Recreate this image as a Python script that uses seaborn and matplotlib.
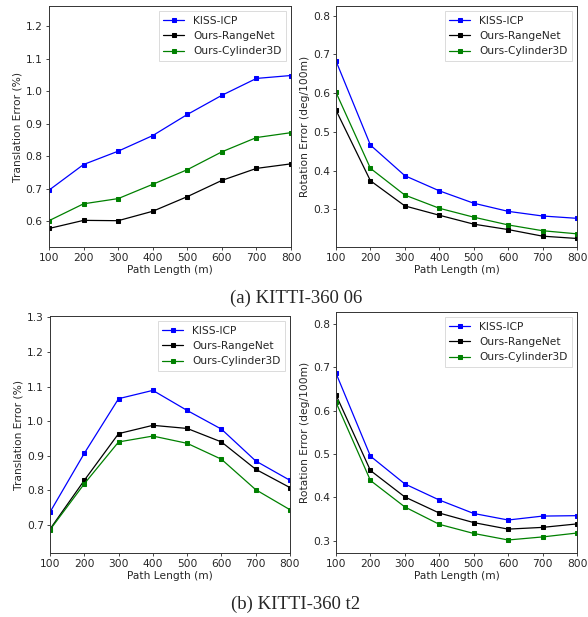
import matplotlib
matplotlib.use("Agg")
import matplotlib.pyplot as plt
from matplotlib.ticker import MultipleLocator
import seaborn as sns
import pandas as pd

path_length = [100, 200, 300, 400, 500, 600, 700, 800]
methods = ["KISS-ICP", "Ours-RangeNet", "Ours-Cylinder3D"]

# (a) KITTI-360 06
trans_06_kiss = [0.695, 0.774, 0.815, 0.863, 0.928, 0.987, 1.039, 1.048]
trans_06_range = [0.577, 0.602, 0.601, 0.630, 0.675, 0.725, 0.762, 0.776]
trans_06_cyl = [0.601, 0.653, 0.669, 0.713, 0.758, 0.813, 0.857, 0.872]
rot_06_kiss = [0.683, 0.466, 0.387, 0.348, 0.316, 0.295, 0.283, 0.277]
rot_06_range = [0.556, 0.374, 0.309, 0.285, 0.262, 0.248, 0.231, 0.225]
rot_06_cyl = [0.602, 0.406, 0.337, 0.303, 0.280, 0.260, 0.245, 0.237]

# (b) KITTI-360 t2
trans_t2_kiss = [0.737, 0.907, 1.065, 1.089, 1.031, 0.977, 0.885, 0.829]
trans_t2_range = [0.688, 0.829, 0.964, 0.988, 0.979, 0.940, 0.861, 0.808]
trans_t2_cyl = [0.686, 0.819, 0.940, 0.957, 0.936, 0.890, 0.802, 0.744]
rot_t2_kiss = [0.686, 0.495, 0.431, 0.394, 0.363, 0.348, 0.357, 0.358]
rot_t2_range = [0.636, 0.462, 0.401, 0.364, 0.342, 0.327, 0.331, 0.339]
rot_t2_cyl = [0.619, 0.439, 0.378, 0.338, 0.317, 0.302, 0.309, 0.318]

captions = ["(a) KITTI-360 06", "(b) KITTI-360 t2"]

sns.set_style("ticks")
plt.rcParams["font.family"] = ["DejaVu Sans"]

colors = {"KISS-ICP": "#0000ff", "Ours-RangeNet": "#000000", "Ours-Cylinder3D": "#008000"}

fig = plt.figure(figsize=(5.88, 6.17), dpi=100)

panels = [
    ([49/588, (617-247)/617, 242/588, 241/617], [trans_06_kiss, trans_06_range, trans_06_cyl],
     "Translation Error (%)", (0.52, 1.262)),
    ([336/588, (617-247)/617, 241/588, 241/617], [rot_06_kiss, rot_06_range, rot_06_cyl],
     "Rotation Error (deg/100m)", (0.203, 0.825)),
    ([50/588, (617-553)/617, 240/588, 237/617], [trans_t2_kiss, trans_t2_range, trans_t2_cyl],
     "Translation Error (%)", (0.619, 1.304)),
    ([336/588, (617-553)/617, 241/588, 241/617], [rot_t2_kiss, rot_t2_range, rot_t2_cyl],
     "Rotation Error (deg/100m)", (0.272, 0.827)),
]

fs = 7.7
for rect, series, ylabel, ylim in panels:
    ax = fig.add_axes(rect)
    for name, vals in zip(methods, series):
        df = pd.DataFrame({"Path Length (m)": path_length, "err": vals})
        sns.lineplot(data=df, x="Path Length (m)", y="err", ax=ax, color=colors[name],
                     marker="s", markersize=3.4, markeredgecolor=colors[name],
                     linewidth=0.9, label=name)
    ax.set_xlim(100, 800)
    ax.set_ylim(*ylim)
    ax.yaxis.set_major_locator(MultipleLocator(0.1))
    ax.xaxis.set_major_locator(MultipleLocator(100))
    ax.set_xlabel("Path Length (m)", fontsize=fs, labelpad=1)
    ax.set_ylabel(ylabel, fontsize=fs, labelpad=2)
    ax.tick_params(labelsize=fs, length=2.5, width=0.6, pad=2)
    for s in ax.spines.values():
        s.set_linewidth(0.7)
        s.set_color("#333333")
    leg = ax.legend(loc="upper right", fontsize=fs, frameon=True, fancybox=False,
                    handlelength=2.0, borderpad=0.4, labelspacing=0.5)
    leg.get_frame().set_edgecolor("#cccccc")
    leg.get_frame().set_linewidth(0.6)

fig.text(296/588, 1 - 298/617, captions[0], ha="center", va="center",
         fontsize=13.5, family=["Liberation Serif"])
fig.text(296/588, 1 - 604/617, captions[1], ha="center", va="center",
         fontsize=13.5, family=["Liberation Serif"])

fig.savefig("out.png", dpi=100)
